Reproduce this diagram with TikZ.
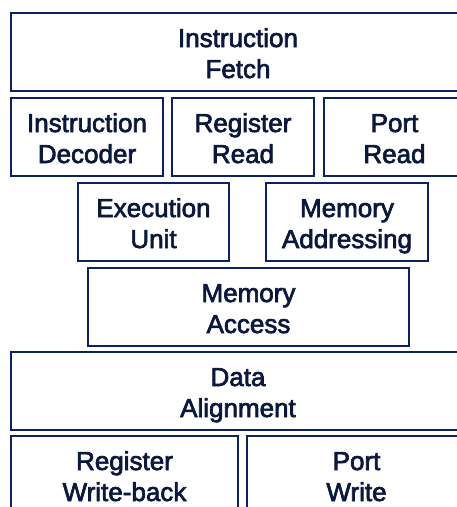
\documentclass[tikz,border=0pt]{standalone}
\usepackage{fontspec}
\setmainfont{Liberation Sans}
\newfontfamily\stagefont[FakeBold=2.6]{Liberation Sans}
\usetikzlibrary{positioning}
\definecolor{boxline}{RGB}{12,34,96}
\definecolor{boxtext}{RGB}{10,24,60}

\begin{document}
\begin{tikzpicture}[x=1pt,y=-1pt]
\tikzstyle{stage}=[draw=boxline,line width=2.2pt,text=boxtext,
  minimum height=78pt,inner sep=0pt,align=center,
  text height=52pt,text depth=0pt,
  font=\stagefont\fontsize{26}{31}\selectfont]
\useasboundingbox (0,0) rectangle (457,507);
% fetch and decode
\node [stage,minimum width=454pt] (fetch) at (238,52) {Instruction\\Fetch};
\node [stage,minimum width=152pt] (decoder) at (87,137) {Instruction\\Decoder};
\node [stage,minimum width=142pt] (regread) at (243,137) {Register\\Read};
\node [stage,minimum width=141pt] (portread) at (394.5,137) {Port\\Read};
% execute
\node [stage,minimum width=151pt] (exec) at (153.5,222) {Execution\\Unit};
\node [stage,minimum width=162pt] (memaddr) at (347,222) {Memory\\Addressing};
\node [stage,minimum width=321pt] (memaccess) at (248.5,307) {Memory\\Access};
% write back
\node [stage,minimum width=454pt] (align) at (238,391) {Data\\Alignment};
\node [stage,minimum width=227pt] (regwb) at (124.5,475) {Register\\Write-back};
\node [stage,minimum width=219pt] (portwrite) at (356.5,475) {Port\\Write};
\end{tikzpicture}
\end{document}
